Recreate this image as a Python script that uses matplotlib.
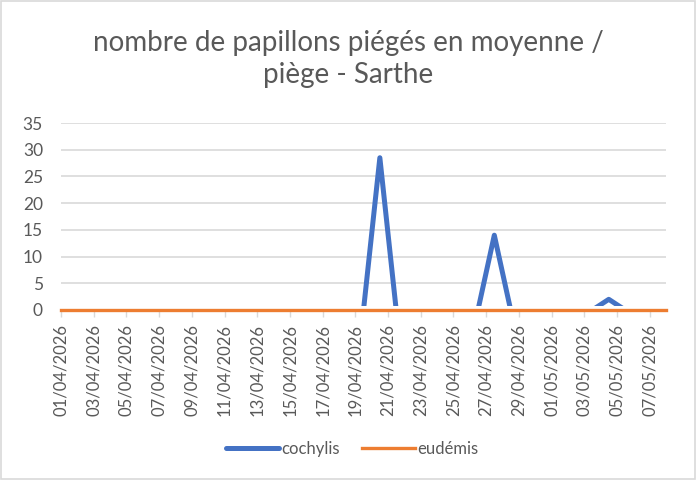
import matplotlib
matplotlib.use("Agg")
import matplotlib.pyplot as plt
import matplotlib.patches as mpatches
from matplotlib.transforms import ScaledTranslation
import pandas as pd

# Data
cochylis_dates = pd.date_range("2026-04-01 12:00", "2026-05-07 12:00", freq="D")
cochylis_values = [0]*37
cochylis_values[19] = 28.5   # 20/04
cochylis_values[26] = 14     # 27/04
cochylis_values[33] = 2      # 04/05
eudemis_dates = pd.date_range("2026-04-01", "2026-05-08", freq="D")
eudemis_values = [0]*len(eudemis_dates)
tick_dates = pd.date_range("2026-04-01", "2026-05-07", freq="2D")
y_ticks = [0, 5, 10, 15, 20, 25, 30, 35]

title = "nombre de papillons piégés en moyenne /\npiège - Sarthe"

plt.rcParams['font.family'] = ['Lato', 'DejaVu Sans']
gray = "#595959"

fig = plt.figure(figsize=(6.96, 4.80), dpi=100)
ax = fig.add_axes([61/696, 1-310/480, (666-61)/696, (310-123)/480])

l1, = ax.plot(cochylis_dates, cochylis_values, color="#4472C4", lw=3.6, label="cochylis",
              solid_joinstyle="round", solid_capstyle="round", zorder=3)
clip = mpatches.Rectangle((0, 0), 1, 1, transform=ax.transAxes +
                          ScaledTranslation(0, 2.8/72, fig.dpi_scale_trans))
l1.set_clip_path(clip)
ax.plot(eudemis_dates, eudemis_values, color="#ED7D31", lw=2.4, label="eudémis",
        zorder=4, clip_on=False)

ax.set_xlim(eudemis_dates[0], eudemis_dates[-1])
ax.set_ylim(0, 35)
ax.set_yticks(y_ticks)
ax.set_yticklabels([str(v) for v in y_ticks], color=gray, fontsize=12.5)
ax.set_xticks(tick_dates)
ax.set_xticklabels([d.strftime("%d/%m/%Y") for d in tick_dates], rotation=90,
                   color=gray, fontsize=12)
ax.tick_params(axis="y", length=0, pad=13)
ax.tick_params(axis="x", length=5, color="#D9D9D9", width=1, pad=5)
ax.grid(axis="y", color="#D9D9D9", lw=1.2)
ax.set_axisbelow(True)
for s in ["top", "right", "left"]:
    ax.spines[s].set_visible(False)
ax.spines["bottom"].set_color("#D9D9D9")

fig.text(0.5, 1-59/480, title, ha="center", va="center", fontsize=20,
         color=gray, linespacing=1.3)

leg = fig.legend(loc="center", bbox_to_anchor=(352/696, 1-449/480), ncol=2,
                 frameon=False, fontsize=12, handlelength=3.2, handletextpad=0.15,
                 columnspacing=1.3)
for t in leg.get_texts():
    t.set_color(gray)

fig.patches.append(plt.Rectangle((1/696, 1/480), 694/696, 478/480, transform=fig.transFigure,
                                 fill=False, edgecolor="#D9D9D9", lw=1.2))

fig.savefig("out.png", dpi=100)
